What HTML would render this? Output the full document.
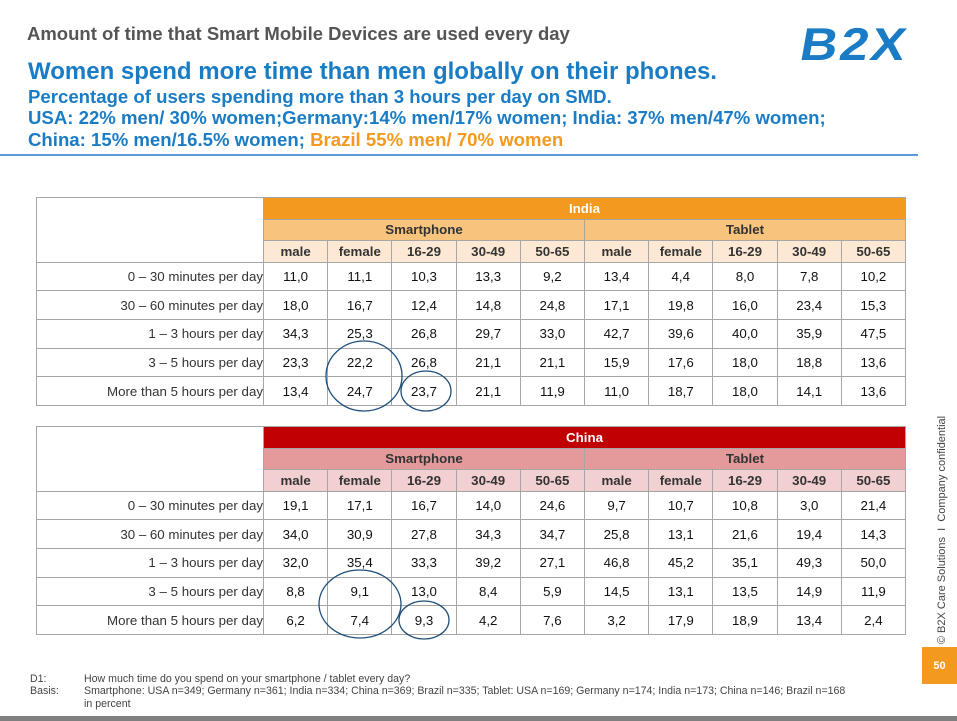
<!DOCTYPE html>
<html><head><meta charset="utf-8">
<style>
body{margin:0;width:957px;height:721px;position:relative;background:#fff;font-family:"Liberation Sans",Arial,sans-serif;overflow:hidden}
.a{position:absolute;white-space:nowrap}
.c{position:absolute;box-sizing:border-box;border:1px solid #a6a6a6;display:flex;align-items:center;justify-content:center;font-size:13.3px;color:#111}
.h{font-weight:bold}
.t{position:absolute;font-weight:bold;color:#1a7cc4}
</style></head><body>
<div class="a" style="left:27px;top:23px;font-size:18.5px;font-weight:bold;color:#555">Amount of time that Smart Mobile Devices are used every day</div>
<div class="a" style="left:801px;top:17px;font-size:46px;font-weight:bold;color:#1a7cc4;letter-spacing:2px;transform:skewX(-10deg) scaleX(1.12);transform-origin:left">B2X</div>
<div class="a t" style="left:28px;top:58px;font-size:24px">Women spend more time than men globally on their phones.</div>
<div class="a t" style="left:28px;top:86px;font-size:18.6px">Percentage of users spending more than 3 hours per day on SMD.</div>
<div class="a t" style="left:28px;top:107px;font-size:18.6px">USA: 22% men/ 30% women;Germany:14% men/17% women; India: 37% men/47% women;</div>
<div class="a t" style="left:28px;top:129px;font-size:18.6px">China: 15% men/16.5% women; <span style="color:#f39a1e">Brazil 55% men/ 70% women</span></div>
<div class="a" style="left:0;top:154px;width:918px;height:2px;background:#5b9bd5"></div>

<div id="tables"></div>
<svg class="a" style="left:0;top:0" width="957" height="721">
<ellipse cx="364" cy="376" rx="38" ry="35" fill="none" stroke="#1f4e79" stroke-width="1.3"/>
<ellipse cx="426" cy="391" rx="25" ry="20" fill="none" stroke="#1f4e79" stroke-width="1.3"/>
<ellipse cx="360" cy="604" rx="41" ry="34" fill="none" stroke="#1f4e79" stroke-width="1.3"/>
<ellipse cx="424" cy="620" rx="25" ry="19" fill="none" stroke="#1f4e79" stroke-width="1.3"/>
</svg>

<div class="a" style="left:942px;top:530px;font-size:11px;color:#444;transform:translate(-50%,-50%) rotate(-90deg);transform-origin:center">© B2X Care Solutions &nbsp;I&nbsp; Company confidential</div>
<div class="a" style="left:922px;top:647px;width:35px;height:37px;background:#f39a1e;color:#fff;font-size:11px;font-weight:bold;display:flex;align-items:center;justify-content:center">50</div>
<div class="a" style="left:30px;top:673px;font-size:10.6px;color:#444">D1:</div>
<div class="a" style="left:84px;top:673px;font-size:10.6px;color:#444">How much time do you spend on your smartphone / tablet every day?</div>
<div class="a" style="left:30px;top:685px;font-size:10.6px;color:#444">Basis:</div>
<div class="a" style="left:84px;top:685px;font-size:10.6px;color:#444;line-height:12.5px">Smartphone: USA n=349; Germany n=361; India n=334; China n=369; Brazil n=335; Tablet: USA n=169; Germany n=174; India n=173; China n=146; Brazil n=168<br>in percent</div>
<div class="a" style="left:0;top:716px;width:957px;height:5px;background:#7f7f7f"></div>

<script>
const rowLabels=["0 – 30 minutes per day","30 – 60 minutes per day","1 – 3 hours per day","3 – 5 hours per day","More than 5 hours per day"];
const colLabels=["male","female","16-29","30-49","50-65","male","female","16-29","30-49","50-65"];
const indiaValues=[
["11,0","11,1","10,3","13,3","9,2","13,4","4,4","8,0","7,8","10,2"],
["18,0","16,7","12,4","14,8","24,8","17,1","19,8","16,0","23,4","15,3"],
["34,3","25,3","26,8","29,7","33,0","42,7","39,6","40,0","35,9","47,5"],
["23,3","22,2","26,8","21,1","21,1","15,9","17,6","18,0","18,8","13,6"],
["13,4","24,7","23,7","21,1","11,9","11,0","18,7","18,0","14,1","13,6"]];
const chinaValues=[
["19,1","17,1","16,7","14,0","24,6","9,7","10,7","10,8","3,0","21,4"],
["34,0","30,9","27,8","34,3","34,7","25,8","13,1","21,6","19,4","14,3"],
["32,0","35,4","33,3","39,2","27,1","46,8","45,2","35,1","49,3","50,0"],
["8,8","9,1","13,0","8,4","5,9","14,5","13,1","13,5","14,9","11,9"],
["6,2","7,4","9,3","4,2","7,6","3,2","17,9","18,9","13,4","2,4"]];
const root=document.getElementById('tables');
function cell(x,y,w,h,txt,bg,cls,color){
  const d=document.createElement('div');
  d.className='c'+(cls?' '+cls:'');
  d.style.cssText=`left:${x}px;top:${y}px;width:${w+1}px;height:${h+1}px;background:${bg};`+(color?`color:${color};`:'');
  d.textContent=txt;
  root.appendChild(d);return d;
}
function table(top,name,values,c1,c2,c3,tc){
  const L=36,X0=263,CW=64.2,hh=21.5,rh=28.7;
  let d=cell(L,top,X0-L,hh*3,'', '#fff');
  
  
  d=cell(X0,top,CW*10,hh,name,c1,'h','#fff');
  
  
  d=cell(X0,top+hh,CW*5,hh,'Smartphone',c2,'h',tc);
  
  
  d=cell(X0+CW*5,top+hh,CW*5,hh,'Tablet',c2,'h',tc);
  
  
  colLabels.forEach((t,i)=>{
    const e=cell(X0+CW*i,top+hh*2,CW,hh,t,c3,'h',tc);
    
    
  });
  const y0=top+hh*3;
  rowLabels.forEach((t,r)=>{
    const e=cell(L,y0+rh*r,X0-L,rh,t,'#fff');
    e.style.justifyContent='flex-end';e.style.color='#333';
    
    
    values[r].forEach((v,i)=>{
      const c=cell(X0+CW*i,y0+rh*r,CW,rh,v,'#fff');
      
      
    });
  });
}
table(197,'India',indiaValues,'#f39a1e','#f8c37c','#fde9d3','#333');
table(426,'China',chinaValues,'#c00000','#e49a9a','#f2cfd0','#333');
</script>
</body></html>
